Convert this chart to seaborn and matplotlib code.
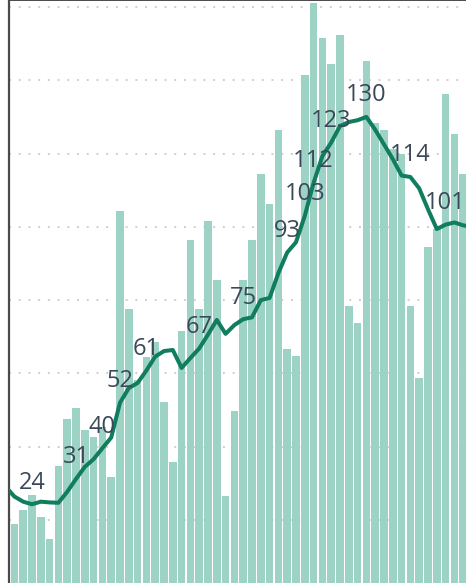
import numpy as np
import pandas as pd
import matplotlib
matplotlib.use("Agg")
import matplotlib.pyplot as plt
import seaborn as sns

# ---- data ----
bar_days = list(range(0, 52))
bar_values = [18.9, 22.7, 26.8, 20.8, 14.8, 34.7, 47.6, 50.6, 44.6, 42.6,
              45.4, 31.7, 104.3, 77.6, 58.2, 64.5, 68.6, 52.1, 35.7, 71.6,
              96.4, 77.6, 101.6, 85.5, 26.5, 49.7, 85.5, 96.4, 114.4, 106.3,
              126.4, 66.7, 64.8, 141.4, 161.0, 151.5, 144.4, 152.3, 78.4, 73.7,
              145.2, 128.3, 126.4, 121.2, 119.8, 78.4, 58.7, 94.5, 99.4, 136.2,
              125.3, 114.4]

line_days = list(range(-1, 53))
line_values = [29.1, 26.4, 25.0, 24.3, 25.0, 24.8, 24.7, 27.7, 31.2, 34.5,
               36.6, 39.6, 42.5, 52.0, 56.0, 57.4, 60.8, 64.6, 66.1, 66.4,
               61.5, 64.2, 66.8, 70.6, 74.6, 70.8, 73.2, 74.8, 75.3, 80.0,
               80.6, 87.4, 93.0, 95.8, 103.0, 112.0, 119.3, 123.0, 127.5, 128.6,
               129.1, 130.0, 126.5, 122.5, 118.5, 114.0, 113.6, 110.5, 104.8, 99.4,
               100.6, 101.2, 100.4, 100.0]

label_days = [2, 7, 10, 12, 15, 21, 26, 31, 33, 34, 36, 40, 45, 49]

grid_values = [20, 40, 60, 80, 100, 120, 140, 160]

# ---- styling ----
BAR_COLOR = "#9dd3c4"
LINE_COLOR = "#0f7d5e"
TEXT_COLOR = "#3b4859"
SPINE_COLOR = "#4a4a4a"

sns.set_style("white")
plt.rcParams["font.family"] = ["Open Sans", "DejaVu Sans"]

W, H = 466, 583
fig = plt.figure(figsize=(W / 100, H / 100), dpi=100)
left_px = 9
ax = fig.add_axes([left_px / W, 0, 1 - left_px / W, 1])

bars = pd.DataFrame({"day": bar_days, "cases": bar_values})
line = pd.DataFrame({"day": line_days, "avg": line_values})

sns.barplot(data=bars, x="day", y="cases", native_scale=True, color=BAR_COLOR,
            saturation=1, width=0.85, linewidth=0, ax=ax, zorder=2)
sns.lineplot(data=line, x="day", y="avg", color=LINE_COLOR, linewidth=2.9,
             ax=ax, zorder=3, solid_joinstyle="round", solid_capstyle="round")

lookup = dict(zip(line_days, line_values))
for d in label_days:
    v = lookup[d]
    ax.annotate(f"{v:.0f}", (d, v), xytext=(0, 15.5), textcoords="offset points",
                ha="center", va="center", fontsize=17, fontweight="normal",
                color=TEXT_COLOR, zorder=5, annotation_clip=False)

ax.set_xlim(-0.614, 51.32)
ax.set_ylim(2.81, 161.9)
ax.set_yticks(grid_values)
ax.set_xticks([])
ax.tick_params(left=False, bottom=False, labelleft=False, labelbottom=False)
ax.set_xlabel("")
ax.set_ylabel("")
ax.yaxis.grid(True, color="#cfcfcf", linestyle=(0, (1, 4)), linewidth=1.4, zorder=0)
ax.xaxis.grid(False)
ax.set_axisbelow(True)

for s in ["right", "bottom"]:
    ax.spines[s].set_visible(False)
ax.spines["left"].set_color(SPINE_COLOR)
ax.spines["left"].set_linewidth(1.6)
ax.spines["top"].set_color(SPINE_COLOR)
ax.spines["top"].set_linewidth(1.4)

fig.savefig("out.png", dpi=100)
